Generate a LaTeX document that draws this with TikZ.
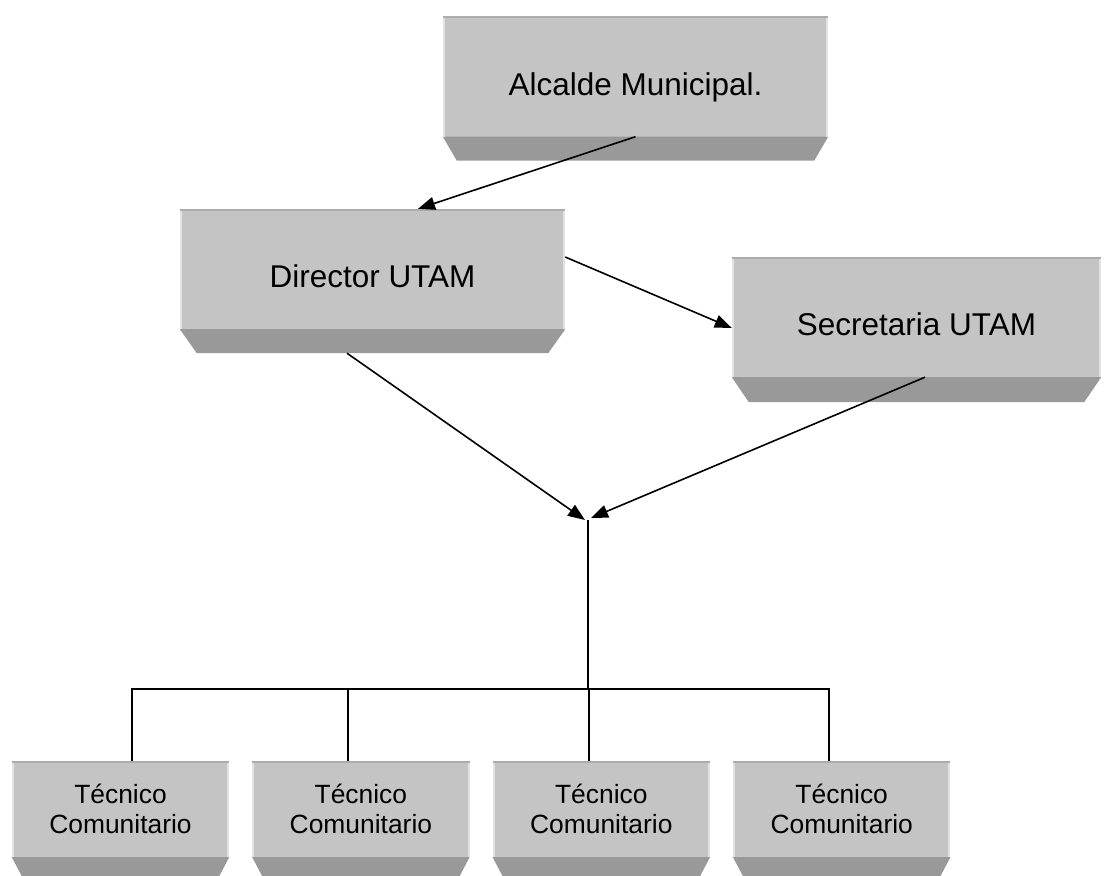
\documentclass[tikz,border=0pt]{standalone}
\usepackage{fontspec}
\setmainfont{Liberation Sans}
\usetikzlibrary{arrows.meta,calc,positioning}
\definecolor{cara}{RGB}{196,196,196}
\definecolor{zocalo}{RGB}{153,153,153}
\definecolor{filo}{RGB}{172,172,172}
\definecolor{brillo}{RGB}{226,226,226}
\tikzset{
  cargo/.style={
    fill=cara,
    align=center,
    inner sep=0pt,
    minimum width=385bp,
    minimum height=120bp,
    text height=37bp,
    text depth=0bp,
    font=\fontsize{31.6}{36}\selectfont
  },
  tecnico/.style={
    fill=cara,
    align=center,
    inner sep=0pt,
    minimum width=217bp,
    minimum height=96bp,
    font=\fontsize{26.5}{30}\selectfont
  },
  base/.style={
    fill=zocalo
  },
  arrow/.style={
    -{Triangle[length=17bp,width=13bp]},
    line width=1.6bp
  },
  linea/.style={
    line width=2bp
  }
}
\begin{document}
\begin{tikzpicture}[x=1bp,y=-1bp,node distance=23bp]
\useasboundingbox (0,0) rectangle (1104,876);
\node[cargo] (alcalde) at (635.5,76.5) {Alcalde Municipal.};
\node[cargo] (director) at (372.5,269) {Director UTAM};
\node[cargo,minimum width=369bp] (secretaria) at (916.5,317) {Secretaria UTAM};
\node[tecnico] (tec1) at (120.5,809) {Técnico\\Comunitario};
\node[tecnico,right=of tec1] (tec2) {Técnico\\Comunitario};
\node[tecnico,right=of tec2] (tec3) {Técnico\\Comunitario};
\node[tecnico,right=of tec3] (tec4) {Técnico\\Comunitario};
% zocalos y filos
\foreach \n/\h/\d in {alcalde/24/14,director/24/17,secretaria/25/17,tec1/19/10,tec2/19/10,tec3/19/10,tec4/19/10}{
  \fill[base] (\n.south west) -- (\n.south east) -- ([xshift=-\d bp,yshift=-\h bp]\n.south east) -- ([xshift=\d bp,yshift=-\h bp]\n.south west) -- cycle;
  \draw[filo,line width=2bp] ([yshift=-1bp]\n.north west) -- ([yshift=-1bp]\n.north east);
  \draw[brillo,line width=2bp] ([xshift=1bp,yshift=-2bp]\n.north west) -- ([xshift=1bp]\n.south west);
  \draw[brillo,line width=2bp] ([xshift=-1bp,yshift=-2bp]\n.north east) -- ([xshift=-1bp]\n.south east);
}
\coordinate (nudo) at (588,520);
\coordinate (bus) at (588,689);
\draw[arrow] (alcalde.south) -- ([xshift=45.5bp]director.north);
\draw[arrow] ([yshift=12bp]director.east) -- ([yshift=-11bp]secretaria.west);
\draw[arrow] ([xshift=-25.5bp,yshift=-24bp]director.south) -- ([xshift=-3bp]nudo);
\draw[arrow] ([xshift=8.5bp]secretaria.south) -- ([xshift=3bp,yshift=2bp]nudo);
\draw[linea] (nudo) -- (bus);
\foreach \tc/\dx in {tec1/11.5,tec2/-12.5,tec3/-12.5,tec4/-12.5}{
  \draw[linea] ([xshift=\dx bp]\tc.north) |- (bus);
}
\end{tikzpicture}
\end{document}
